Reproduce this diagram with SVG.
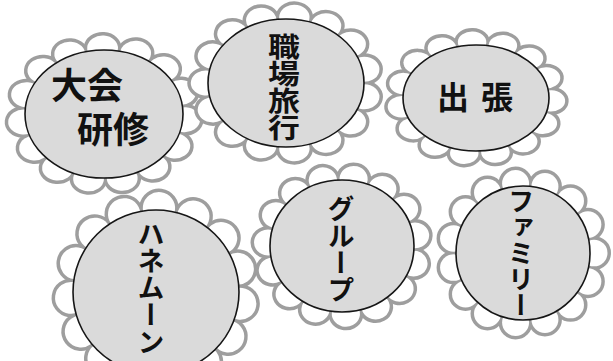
<svg xmlns="http://www.w3.org/2000/svg" xmlns:xlink="http://www.w3.org/1999/xlink" width="613" height="361" viewBox="0 0 613 361">
<style>
.ls{fill:none;stroke:#9e9e9e;stroke-width:7}
.lf{fill:#fff;stroke:none}
.core{fill:#dadada;stroke:#161616;stroke-width:1.6}
.t{font-family:"Noto Sans CJK JP","Noto Sans CJK SC",sans-serif;font-weight:700;fill:#111}
.v{writing-mode:vertical-rl;font-size:27px}
</style>
<defs>
<g id="lobes">
<circle cx="100" cy="0" r="19" vector-effect="non-scaling-stroke"/>
<circle cx="91.35" cy="40.67" r="19" vector-effect="non-scaling-stroke"/>
<circle cx="66.91" cy="74.31" r="19" vector-effect="non-scaling-stroke"/>
<circle cx="30.9" cy="95.11" r="19" vector-effect="non-scaling-stroke"/>
<circle cx="-10.45" cy="99.45" r="19" vector-effect="non-scaling-stroke"/>
<circle cx="-50" cy="86.6" r="19" vector-effect="non-scaling-stroke"/>
<circle cx="-80.9" cy="58.78" r="19" vector-effect="non-scaling-stroke"/>
<circle cx="-97.81" cy="20.79" r="19" vector-effect="non-scaling-stroke"/>
<circle cx="-97.81" cy="-20.79" r="19" vector-effect="non-scaling-stroke"/>
<circle cx="-80.9" cy="-58.78" r="19" vector-effect="non-scaling-stroke"/>
<circle cx="-50" cy="-86.6" r="19" vector-effect="non-scaling-stroke"/>
<circle cx="-10.45" cy="-99.45" r="19" vector-effect="non-scaling-stroke"/>
<circle cx="30.9" cy="-95.11" r="19" vector-effect="non-scaling-stroke"/>
<circle cx="66.91" cy="-74.31" r="19" vector-effect="non-scaling-stroke"/>
<circle cx="91.35" cy="-40.67" r="19" vector-effect="non-scaling-stroke"/>
</g>
</defs>
<rect width="613" height="361" fill="#fff"/>

<g id="node-taikai">
<use href="#lobes" class="ls" transform="translate(104 114) scale(0.81 0.66) rotate(5)"/>
<use href="#lobes" class="lf" transform="translate(104 114) scale(0.81 0.66) rotate(5)"/>
<ellipse class="core" cx="104" cy="114" rx="79" ry="64"/>
<text class="t" x="51" y="99" font-size="36">大会</text>
<text class="t" x="77" y="143" font-size="36">研修</text>
</g>

<g id="node-shokuba">
<use href="#lobes" class="ls" transform="translate(286 83) scale(0.8 0.66) rotate(12)"/>
<use href="#lobes" class="lf" transform="translate(286 83) scale(0.8 0.66) rotate(12)"/>
<ellipse class="core" cx="286" cy="83" rx="78" ry="64"/>
<text class="t v" x="0" y="33" transform="translate(284 0) scale(1.18 1)">職場旅行</text>
</g>

<g id="node-shutcho">
<use href="#lobes" class="ls" transform="translate(476 98) scale(0.75 0.56) rotate(3)"/>
<use href="#lobes" class="lf" transform="translate(476 98) scale(0.75 0.56) rotate(3)"/>
<ellipse class="core" cx="476" cy="98" rx="73" ry="53"/>
<text class="t" x="437" y="109" font-size="32" letter-spacing="12">出張</text>
</g>

<g id="node-honeymoon">
<use href="#lobes" class="ls" transform="translate(156 292) scale(0.85 0.84) rotate(8)"/>
<use href="#lobes" class="lf" transform="translate(156 292) scale(0.85 0.84) rotate(8)"/>
<ellipse class="core" cx="156" cy="292" rx="83" ry="82"/>
<text class="t v" x="151" y="220">ハネムーン</text>
</g>

<g id="node-group">
<use href="#lobes" class="ls" transform="translate(342 246) scale(0.74 0.68) rotate(15)"/>
<use href="#lobes" class="lf" transform="translate(342 246) scale(0.74 0.68) rotate(15)"/>
<ellipse class="core" cx="342" cy="246" rx="72" ry="66"/>
<text class="t v" x="341" y="195">グループ</text>
</g>

<g id="node-family">
<use href="#lobes" class="ls" transform="translate(523 253) scale(0.71 0.7) rotate(0)"/>
<use href="#lobes" class="lf" transform="translate(523 253) scale(0.71 0.7) rotate(0)"/>
<ellipse class="core" cx="523" cy="253" rx="67" ry="67"/>
<text class="t v" x="521" y="188" style="font-size:26px">ファミリー</text>
</g>

<g id="connectors"></g>
</svg>
